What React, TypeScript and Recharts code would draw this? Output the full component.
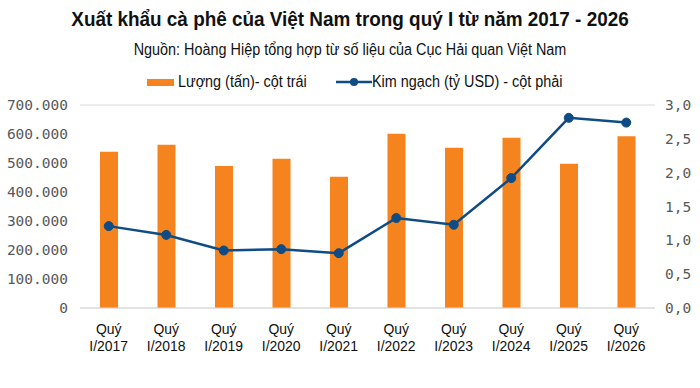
import {
  ComposedChart,
  Bar,
  Line,
  XAxis,
  YAxis,
  CartesianGrid,
} from "recharts";

const quarters = [
  "Quý I/2017",
  "Quý I/2018",
  "Quý I/2019",
  "Quý I/2020",
  "Quý I/2021",
  "Quý I/2022",
  "Quý I/2023",
  "Quý I/2024",
  "Quý I/2025",
  "Quý I/2026",
];
const volumeTons = [539000, 563000, 490000, 515000, 453000, 601000, 553000, 587000, 497000, 592000];
const valueBillionUsd = [1.21, 1.08, 0.85, 0.87, 0.81, 1.33, 1.23, 1.92, 2.81, 2.74];
const leftTicks = [0, 100000, 200000, 300000, 400000, 500000, 600000, 700000];
const rightTicks = [0, 0.5, 1, 1.5, 2, 2.5, 3];

const data = quarters.map((q, i) => ({
  quarter: q,
  volume: volumeTons[i],
  value: valueBillionUsd[i],
}));

const orange = "#f5841f";
const blue = "#0f4c85";
const tickStyle = { fontFamily: "DejaVu Sans Mono", fontSize: 14.5, fill: "#595959" };
const sans = "'Liberation Sans', Arial, sans-serif";

const fmtLeft = (v: number) => v.toLocaleString("de-DE");
const fmtRight = (v: number) => v.toFixed(1).replace(".", ",");

// two-line category label, squeezed a bit to look like a condensed face
const CategoryTick = (props: any) => {
  const { x, y, payload } = props;
  const [first, ...rest] = String(payload.value).split(" ");
  return (
    <g transform={`translate(${x},${y}) scale(0.9,1)`}>
      <text x={0} y={18} textAnchor="middle" fontFamily={sans} fontSize={15.5} fill="#111">
        {first}
      </text>
      <text x={0} y={35} textAnchor="middle" fontFamily={sans} fontSize={15.5} fill="#111">
        {rest.join(" ")}
      </text>
    </g>
  );
};

const squeeze = (origin: string) => ({
  transform: "scaleX(0.9)",
  transformOrigin: origin,
  whiteSpace: "nowrap" as const,
});

export default function App() {
  return (
    <div style={{ position: "fixed", left: 0, top: 0, width: 700, height: 388, background: "#fff", fontFamily: sans, color: "#111" }}>
      <div style={{ position: "absolute", top: 7, width: 700, textAlign: "center", fontWeight: "bold", fontSize: 21, ...squeeze("center") }}>
        Xuất khẩu cà phê của Việt Nam trong quý I từ năm 2017 - 2026
      </div>
      <div style={{ position: "absolute", top: 41, width: 700, textAlign: "center", fontSize: 16, ...squeeze("center") }}>
        Nguồn: Hoàng Hiệp tổng hợp từ số liệu của Cục Hải quan Việt Nam
      </div>
      <div style={{ position: "absolute", top: 79, left: 147, width: 27, height: 7, background: orange }} />
      <div style={{ position: "absolute", top: 73, left: 178, fontSize: 16, ...squeeze("left") }}>
        Lượng (tấn)- cột trái
      </div>
      <svg width={36} height={10} style={{ position: "absolute", top: 77, left: 336 }}>
        <line x1={0} y1={5} x2={36} y2={5} stroke={blue} strokeWidth={2.5} />
        <circle cx={18} cy={5} r={4} fill={blue} />
      </svg>
      <div style={{ position: "absolute", top: 73, left: 372, fontSize: 16, ...squeeze("left") }}>
        Kim ngạch (tỷ USD) - cột phải
      </div>
      <div style={{ position: "absolute", left: 0, top: 0 }}>
        <ComposedChart
          width={700}
          height={388}
          data={data}
          margin={{ top: 105, right: 0, bottom: 30, left: 8 }}
        >
          <CartesianGrid vertical={false} stroke="#d9d9d9" />
          <XAxis
            dataKey="quarter"
            tick={<CategoryTick />}
            tickLine={false}
            axisLine={{ stroke: "#d9d9d9" }}
            interval={0}
            height={50}
          />
          <YAxis
            yAxisId="left"
            domain={[0, 700000]}
            ticks={leftTicks}
            tickFormatter={fmtLeft}
            tick={tickStyle}
            axisLine={false}
            tickLine={false}
            width={72}
            tickMargin={6}
          />
          <YAxis
            yAxisId="right"
            orientation="right"
            domain={[0, 3]}
            ticks={rightTicks}
            tickFormatter={fmtRight}
            tick={tickStyle}
            axisLine={false}
            tickLine={false}
            width={45}
            tickMargin={4}
          />
          <Bar yAxisId="left" dataKey="volume" fill={orange} barSize={18} isAnimationActive={false} />
          <Line
            yAxisId="right"
            dataKey="value"
            type="linear"
            stroke={blue}
            strokeWidth={2.5}
            dot={{ r: 4.5, fill: blue, stroke: blue, strokeWidth: 1 }}
            isAnimationActive={false}
          />
        </ComposedChart>
      </div>
    </div>
  );
}
